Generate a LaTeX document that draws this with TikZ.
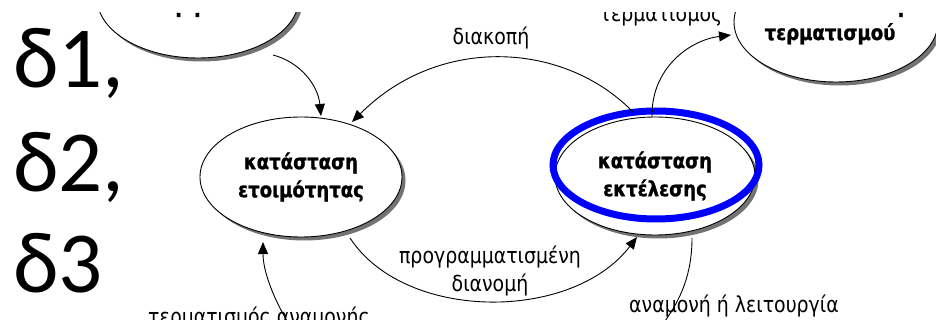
\documentclass[tikz,border=0pt]{standalone}
\usepackage{fontspec}
\setmainfont{DejaVu Sans}
\newfontfamily\lblfont[FakeStretch=0.86]{DejaVu Sans}
\newfontfamily\nodefont[FakeStretch=0.86,FakeBold=1.2]{DejaVu Sans Bold}
\newfontfamily\bigfont{Carlito}
\usetikzlibrary{shapes.geometric,arrows.meta,shadows}
\begin{document}
\begin{tikzpicture}[x=1pt,y=-1pt,
  state/.style={ellipse, draw=black, line width=0.9pt, fill=white, inner sep=0pt, align=center,
    font=\nodefont\fontsize{21}{28}\selectfont,
    drop shadow={shadow xshift=3.5pt, shadow yshift=-3.5pt, fill=black!55, opacity=1}},
  ring/.style={ellipse, draw=blue, line width=7pt, inner sep=0pt},
  conn/.style={line width=0.9pt, -{Triangle[length=12pt,width=10pt]}},
  plainconn/.style={line width=0.9pt},
  lbl/.style={font=\lblfont\fontsize{22}{28}\selectfont, inner sep=0pt, align=center},
  bold/.style={font=\nodefont\fontsize{21}{28}\selectfont, inner sep=0pt},
  big/.style={font=\bigfont\fontsize{87}{87}\selectfont, inner sep=0pt, anchor=base west}]
\useasboundingbox (0,0) rectangle (936,320);
\fill[white] (0,0) rectangle (936,320);
\node[big] (d1) at (13,88) {δ1,};
\node[big] (d2) at (13,192) {δ2,};
\node[big] (d3) at (13,292) {δ3};
\begin{scope}
\clip (0,13) rectangle (936,320);
\node[state, minimum width=202pt, minimum height=120pt] (tl) at (198,-2) {};
\node[bold, anchor=base] (tldots) at (188,17) {.\hspace{12pt}.};
\node[state, minimum width=204pt, minimum height=120pt] (tr) at (836,22) {};
\node[bold, anchor=base] (trtext) at (830,40) {τερματισμού};
\node[bold, anchor=base] (trdot) at (901,17) {.};
\node[state, minimum width=202pt, minimum height=120pt] (ready) at (301,177) {κατάσταση\\ετοιμότητας};
\node[state, minimum width=200pt, minimum height=118pt] (run) at (655,176) {κατάσταση\\εκτέλεσης};
\node[ring, minimum width=206pt, minimum height=108pt] (runring) at (656,165) {};

\coordinate (a1s) at (273,55);
\coordinate (a1e) at (321,116);
\draw[conn] (a1s) .. controls (300,62) and (318,85) .. (a1e);

\coordinate (a2s) at (633,112);
\coordinate (a2e) at (352,122);
\draw[conn] (a2s) .. controls (565,42) and (440,34) .. (a2e);
\node[lbl, anchor=base] (l2) at (491,45) {διακοπή};

\coordinate (a3s) at (652,117);
\coordinate (a3e) at (731,35);
\draw[conn] (a3s) .. controls (651,68) and (690,40) .. (a3e);
\node[lbl, anchor=base] (l3) at (661,22) {τερματισμός};

\coordinate (a4s) at (350,238);
\coordinate (a4e) at (637,237);
\draw[conn] (a4s) .. controls (405,322) and (572,322) .. (a4e);
\node[lbl] (l4) at (490,271) {προγραμματισμένη\\διανομή};

\coordinate (a5s) at (692,238);
\coordinate (a5e) at (665,321);
\draw[plainconn] (a5s) .. controls (692,275) and (680,300) .. (a5e);
\node[lbl, anchor=base] (l5) at (734,312) {αναμονή ή λειτουργία};

\coordinate (a6s) at (287,321);
\coordinate (a6e) at (263,242);
\draw[conn] (a6s) .. controls (272,295) and (263,270) .. (a6e);
\node[lbl, anchor=base west] (l6) at (148,324) {τερματισμός αναμονής};
\end{scope}
\end{tikzpicture}
\end{document}
